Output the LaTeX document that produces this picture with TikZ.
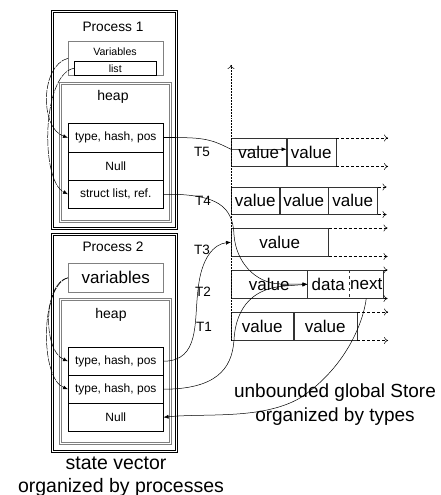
\documentclass[tikz,border=0pt]{standalone}
\usepackage{fontspec}
\setmainfont{Liberation Sans}
\usetikzlibrary{positioning,arrows.meta}
\begin{document}
\begin{tikzpicture}[x=1pt,y=-1pt,line width=0.5pt,
  proc/.style={draw,double,double distance=1.3pt,line width=0.6pt,inner sep=0,anchor=north west},
  heapbox/.style={draw=gray,double=white,double distance=1.6pt,line width=0.6pt,inner sep=0,anchor=north west},
  cell/.style={draw,inner sep=0,anchor=north west,font=\fontsize{12}{14}\selectfont},
  store/.style={draw=black!80,inner sep=0,anchor=north west,minimum height=28,font=\fontsize{17}{20}\selectfont},
  txt/.style={inner sep=0},
  ext/.style={dash pattern=on 3pt off 2pt,-{To[length=4pt,width=7pt]}},
  ptr/.style={dash pattern=on 7pt off 1pt,-{Latex[length=5pt,width=4pt]}},
  link/.style={-{Latex[length=5pt,width=4pt]}}]
\useasboundingbox (0,0) rectangle (441,495);
% process 1
\node[proc,minimum width=124,minimum height=217] (p1) at (52,11) {};
\node[txt,font=\fontsize{13.7}{16}\selectfont] (p1t) at (113,27) {Process 1};
\node[cell,draw=gray,minimum width=95,minimum height=34] (var1) at (68,41) {};
\node[txt,font=\fontsize{10.6}{12}\selectfont] (var1t) at (115,52) {Variables};
\node[cell,minimum width=82,minimum height=14,font=\fontsize{10.6}{12}\selectfont] (list1) at (74,61) {list};
\node[heapbox,minimum width=110,minimum height=138] (heap1) at (60,83) {};
\node[txt,font=\fontsize{14}{16}\selectfont] (heap1t) at (113,97) {heap};
\node[cell,minimum width=95,minimum height=29] (h11) at (68,123) {type, hash, pos};
\node[cell,minimum width=95,minimum height=28] (h12) at (68,152) {Null};
\node[cell,minimum width=95,minimum height=28] (h13) at (68,180) {struct list, ref.};
\draw[line width=1pt] (h13.south west) -- (h13.south east);
% process 2
\node[proc,minimum width=124,minimum height=217] (p2) at (52,234) {};
\node[txt,font=\fontsize{13.7}{16}\selectfont] (p2t) at (113,247) {Process 2};
\node[cell,draw=gray,minimum width=95,minimum height=29,font=\fontsize{17}{20}\selectfont] (var2) at (68,263) {variables};
\node[heapbox,minimum width=110,minimum height=144] (heap2) at (60,299) {};
\node[txt,font=\fontsize{14}{16}\selectfont] (heap2t) at (111,315) {heap};
\node[cell,minimum width=95,minimum height=28] (h21) at (68,347) {type, hash, pos};
\node[cell,minimum width=95,minimum height=28] (h22) at (68,375) {type, hash, pos};
\node[cell,minimum width=95,minimum height=28] (h23) at (68,403) {Null};
\node[txt,font=\fontsize{19.5}{22}\selectfont] (sv1) at (116,463) {state vector};
\node[txt,font=\fontsize{19.5}{22}\selectfont] (sv2) at (121,487) {organized by processes};
% global store
\node[store,minimum width=55] (v11) at (231,138) {value};
\node[store,minimum width=49,right=0pt of v11] (v12) {value};
\node[store,minimum width=48,minimum height=27] (v21) at (231,187) {value};
\node[store,minimum width=48,minimum height=27,right=0pt of v21] (v22) {value};
\node[store,minimum width=49,minimum height=27,right=0pt of v22] (v23) {value};
\node[store,minimum width=97] (v3) at (231,228) {value};
\node[store,minimum width=76] (v4) at (231,270) {value};
\node[store,draw=none,minimum width=41,right=0pt of v4] (d4) {data};
\node[store,draw=none,minimum width=34,right=0pt of d4] (n4) {next};
\node[store,minimum width=62] (v51) at (231,312) {value};
\node[store,minimum width=63,right=0pt of v51] (v52) {value};
\draw[black!80] (d4.north west) -- (n4.north east) -- (n4.south east) -- (d4.south west);
\draw[black!80,dashed] (d4.north east) -- (d4.south east);
\node[txt,font=\fontsize{19}{22}\selectfont] (gs1) at (335,393) {unbounded global Store};
\node[txt,font=\fontsize{19}{22}\selectfont] (gs2) at (335,417) {organized by types};
\coordinate (top) at (231,65);
\draw[densely dotted,-{To[length=4pt,width=7pt]}] (v51.south west) -- (top);
% continuation of the rows
\draw[ext] (v12.north east) -- ++(52,0);
\draw[ext] (v12.south east) -- ++(52,0);
\draw[ext] (v23.north east) -- ++(9,0);
\draw[ext] (v23.south east) -- ++(9,0);
\draw[ext] (v3.north east) -- ++(59,0);
\draw[ext] (v3.south east) -- ++(59,0);
\draw[-{To[length=4pt,width=7pt]}] (n4.north east) -- ++(4,0);
\draw[-{To[length=4pt,width=7pt]}] (n4.south east) -- ++(4,0);
\draw[ext] (v52.north east) -- ++(31,0);
\draw[ext] (v52.south east) -- ++(31,0);
% labels of the transitions
\node[txt,font=\fontsize{13.5}{16}\selectfont] (t5) at (202,152) {T5};
\node[txt,font=\fontsize{13.5}{16}\selectfont] (t4) at (203,201) {T4};
\node[txt,font=\fontsize{13.5}{16}\selectfont] (t3) at (202,250) {T3};
\node[txt,font=\fontsize{13.5}{16}\selectfont] (t2) at (203,292) {T2};
\node[txt,font=\fontsize{13.5}{16}\selectfont] (t1) at (204,327) {T1};
% pointers inside the processes
\draw[ptr] (var1.west) .. controls (40,66) and (40,128) .. (h11.west);
\draw[ptr] (list1.west) .. controls (42,74) and (40,180) .. (h13.west);
\draw[ptr] (var2.west) .. controls (44,282) and (42,350) .. (h21.west);
\draw[ptr] (var2.west) .. controls (40,286) and (40,378) .. (h22.west);
% references into the store
\draw[line width=1.3pt] (h11.east) -- ++(12,0);
\draw[link] ([xshift=12pt]h11.east) .. controls (208,137) and (216,142) .. ([yshift=3pt]v11.west) -- ([yshift=3pt]v11.east);
\draw[link] (h13.east) -- ++(12,0) .. controls (215,196) and (233,205) .. (234,235) .. controls (236,262) and (255,283) .. (280,284) -- (d4.west);
\draw[link] (h21.east) .. controls (200,361) and (194,322) .. (198,290) .. controls (201,258) and (214,244) .. (v3.west);
\draw[link] (h22.east) .. controls (215,389) and (232,370) .. (234,340) .. controls (236,305) and (255,288) .. (285,286) -- (d4.west);
\draw[link] (n4.south) .. controls (362,330) and (340,372) .. (300,398) .. controls (262,420) and (205,413) .. (h23.east);
\end{tikzpicture}
\end{document}
